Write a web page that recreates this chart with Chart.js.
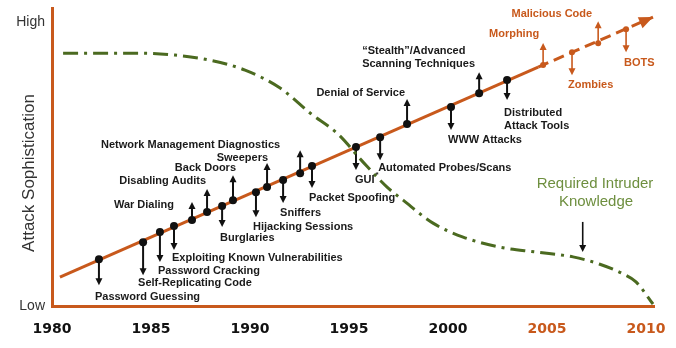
<!DOCTYPE html>
<html>
<head>
<meta charset="utf-8">
<script src="https://cdn.jsdelivr.net/npm/chart.js@4.4.0/dist/chart.umd.min.js"></script>
<style>
  html, body { margin: 0; padding: 0; background: #fff; }
  #wrap { width: 676px; height: 348px; }
</style>
</head>
<body>
<div id="wrap"><canvas id="chart"></canvas></div>
<script>
// x = year, y = attack sophistication, 0 (low) .. 100 (high)
const yearTicks = [1980, 1985, 1990, 1995, 2000, 2005, 2010];
const sophTicks = [0, 100];
const sophTickLabels = ['Low', 'High'];

// trend line: start, end of the solid part, arrow tip
const trendYears = [1980.4, 2004.55, 2010.35];
const trendValues = [10.2, 84.2, 101.8];

// attacks / tools along the trend
const eventNames = [
  'Password Guessing', 'Self-Replicating Code', 'Password Cracking',
  'Exploiting Known Vulnerabilities', 'War Dialing', 'Disabling Audits',
  'Burglaries', 'Back Doors', 'Hijacking Sessions', 'Sweepers', 'Sniffers',
  'Network Management Diagnostics', 'Packet Spoofing', 'GUI',
  'Automated Probes/Scans', 'Denial of Service', 'WWW Attacks',
  '“Stealth”/Advanced|Scanning Techniques', 'Distributed|Attack Tools',
  'Morphing', 'Zombies', 'Malicious Code', 'BOTS'
];
const eventYears = [
  1982.37, 1984.60, 1985.45, 1986.16, 1987.07, 1987.83, 1988.59, 1989.14,
  1990.30, 1990.86, 1991.67, 1992.53, 1993.13, 1995.35, 1996.57, 1997.93,
  2000.15, 2001.57, 2002.98, 2004.80, 2006.26, 2007.58, 2008.99
];
const eventValues = [
  16.5, 22.5, 26.1, 28.2, 30.3, 33.1, 35.2, 37.3, 40.1, 41.9, 44.4, 46.8,
  49.3, 56.0, 59.5, 64.1, 70.1, 75.0, 79.6, 84.9, 89.4, 92.6, 97.5
];
// 1 = arrow up, -1 = arrow down
const eventDirs = [
  -1, -1, -1, -1, 1, 1, -1, 1, -1, 1, -1, 1, -1, -1, -1, 1, -1, 1, -1, 1, -1, 1, -1
];
const futureFrom = 19; // Morphing onwards is the projected part

// required intruder knowledge
const knowYears = [
  1980.56, 1982.42, 1984.44, 1986.21, 1987.98, 1989.75, 1991.52, 1993.03,
  1994.44, 1995.71, 1996.92, 1997.73, 1999.24, 2000.76, 2002.58, 2004.44,
  2006.31, 2007.63, 2008.84, 2009.49, 2010.35
];
const knowValues = [
  89.1, 89.1, 89.1, 88.4, 86.6, 83.1, 76.8, 68.0, 60.6, 50.7, 41.9, 37.3,
  29.2, 24.3, 20.8, 19.0, 17.3, 14.8, 11.3, 8.5, 0.7
];
const knowArrowYear = 2006.8;
const knowArrowValue = 18.7;

// layout of arrows and labels (pixels, relative to the dot)
const arrowLen = [26, 33, 30, 24, 18, 23, 21, 25, 25, 24, 23, 23, 22, 23, 23, 25, 23, 21, 20, 22, 23, 22, 23];
const labelDx = [-4, -5, -2, -2, -18, -1, -2, 3, -3, 1, -3, -20, -3, -1, -2, -2, -3, -117, -3, -4, -4, -6, -2];
const labelDy = [38, 41, 39, 32, -15, -31, 32, -32, 35, -29, 33, -28, 32, 33, 31, -31, 33, -42, 33, -31, 33, -29, 34];
const labelAlign = ['left', 'left', 'left', 'left', 'right', 'right', 'left', 'right', 'left', 'right', 'left', 'right',
  'left', 'left', 'left', 'right', 'left', 'left', 'left', 'right', 'left', 'right', 'left'];

const ORANGE = '#c8591c';
const GREEN = '#4b6a20';
const LABEL_GREEN = '#6e8f3f';

function drawArrow(ctx, x, y0, y1, color, width) {
  const dir = y1 < y0 ? -1 : 1;
  ctx.strokeStyle = color;
  ctx.fillStyle = color;
  ctx.lineWidth = width;
  ctx.beginPath();
  ctx.moveTo(x, y0);
  ctx.lineTo(x, y1 - dir * 5);
  ctx.stroke();
  ctx.beginPath();
  ctx.moveTo(x, y1);
  ctx.lineTo(x - 3.5, y1 - dir * 7);
  ctx.lineTo(x + 3.5, y1 - dir * 7);
  ctx.closePath();
  ctx.fill();
}

const annotations = {
  id: 'annotations',
  beforeDatasetsDraw(chart) {
    const { ctx, scales: { x, y } } = chart;
    ctx.save();
    eventNames.forEach((name, i) => {
      const px = x.getPixelForValue(eventYears[i]);
      const py = y.getPixelForValue(eventValues[i]);
      const future = i >= futureFrom;
      drawArrow(ctx, px, py, py - eventDirs[i] * arrowLen[i], future ? ORANGE : '#111', future ? 1.6 : 2);
    });
    // arrow pointing at the knowledge curve
    const kx = x.getPixelForValue(knowArrowYear);
    const ky = y.getPixelForValue(knowArrowValue);
    drawArrow(ctx, kx, ky - 31, ky - 1, '#111', 1.6);
    ctx.restore();
  },
  afterDatasetsDraw(chart) {
    const { ctx, scales: { x, y } } = chart;
    ctx.save();
    // arrow head of the trend line
    const n = trendYears.length;
    const x1 = x.getPixelForValue(trendYears[n - 2]), y1 = y.getPixelForValue(trendValues[n - 2]);
    const x2 = x.getPixelForValue(trendYears[n - 1]), y2 = y.getPixelForValue(trendValues[n - 1]);
    const ang = Math.atan2(y2 - y1, x2 - x1);
    ctx.fillStyle = ORANGE;
    ctx.translate(x2, y2);
    ctx.rotate(ang);
    ctx.beginPath();
    ctx.moveTo(0, 0);
    ctx.lineTo(-14, -6);
    ctx.lineTo(-14, 6);
    ctx.closePath();
    ctx.fill();
    ctx.setTransform(1, 0, 0, 1, 0, 0);

    // event labels
    ctx.font = 'bold 11px "Liberation Sans", Arial, sans-serif';
    ctx.textBaseline = 'middle';
    eventNames.forEach((name, i) => {
      const px = x.getPixelForValue(eventYears[i]);
      const py = y.getPixelForValue(eventValues[i]);
      ctx.fillStyle = i >= futureFrom ? ORANGE : '#1a1a1a';
      ctx.textAlign = labelAlign[i];
      name.split('|').forEach((line, k) => {
        ctx.fillText(line, px + labelDx[i], py + labelDy[i] + k * 13);
        if (line === 'GUI') {
          const w = ctx.measureText(line).width;
          ctx.save();
          ctx.font = 'bold 8px "Liberation Sans", Arial, sans-serif';
          ctx.textAlign = 'left';
          ctx.fillText('*', px + labelDx[i] + w + 1, py + labelDy[i] - 5);
          ctx.restore();
        }
      });
    });

    // knowledge label
    ctx.font = '15px "Liberation Sans", Arial, sans-serif';
    ctx.fillStyle = LABEL_GREEN;
    ctx.textAlign = 'center';
    ctx.fillText('Required Intruder', 595, 184);
    ctx.fillText('Knowledge', 596, 202);

    // y axis title
    ctx.font = '17px "Liberation Sans", Arial, sans-serif';
    ctx.fillStyle = '#333';
    ctx.translate(29, 173);
    ctx.rotate(-Math.PI / 2);
    ctx.fillText('Attack Sophistication', 0, 0);
    ctx.restore();
  }
};

new Chart(document.getElementById('chart'), {
  type: 'scatter',
  data: {
    datasets: [
      {
        label: 'Attacks',
        data: eventYears.map((yr, i) => ({ x: yr, y: eventValues[i] })),
        pointRadius: eventYears.map((yr, i) => i >= futureFrom ? 3 : 4),
        pointBackgroundColor: eventYears.map((yr, i) => i >= futureFrom ? ORANGE : '#111'),
        pointBorderWidth: 0,
        showLine: false
      },
      {
        label: 'Trend',
        data: trendYears.slice(0, 2).map((yr, i) => ({ x: yr, y: trendValues[i] })),
        showLine: true,
        borderColor: ORANGE,
        borderWidth: 3,
        pointRadius: 0
      },
      {
        label: 'Projected',
        data: trendYears.slice(1).map((yr, i) => ({ x: yr, y: trendValues[i + 1] })),
        showLine: true,
        borderColor: ORANGE,
        borderWidth: 3,
        borderDash: [11, 6],
        pointRadius: 0
      },
      {
        label: 'Required Intruder Knowledge',
        data: knowYears.map((yr, i) => ({ x: yr, y: knowValues[i] })),
        showLine: true,
        borderColor: GREEN,
        borderWidth: 3,
        borderDash: [15, 6, 3, 6],
        tension: 0.4,
        cubicInterpolationMode: 'monotone',
        pointRadius: 0
      }
    ]
  },
  options: {
    responsive: true,
    maintainAspectRatio: false,
    animation: false,
    layout: { padding: { top: 8, right: 22, left: 0, bottom: 0 } },
    plugins: {
      legend: { display: false },
      tooltip: { enabled: false }
    },
    scales: {
      x: {
        type: 'linear',
        min: 1980,
        max: 2010.4,
        afterBuildTicks: (scale) => { scale.ticks = yearTicks.map(v => ({ value: v })); },
        afterFit: (scale) => { scale.height = 42; scale.paddingLeft = 0; scale.paddingRight = 0; },
        grid: { display: false, drawTicks: false },
        border: { color: ORANGE, width: 3 },
        ticks: {
          autoSkip: false,
          maxRotation: 0,
          padding: 15,
          font: { family: '"DejaVu Sans", Verdana, sans-serif', size: 14, weight: 'bold' },
          color: (c) => c.tick && c.tick.value >= 2005 ? ORANGE : '#111',
          callback: (v) => String(v)
        }
      },
      y: {
        min: 0,
        max: 105,
        afterBuildTicks: (scale) => { scale.ticks = sophTicks.map(v => ({ value: v })); },
        afterFit: (scale) => { scale.width = 52; scale.paddingTop = 0; scale.paddingBottom = 0; },
        grid: { display: false, drawTicks: false },
        border: { color: ORANGE, width: 3 },
        ticks: {
          autoSkip: false,
          padding: 7,
          font: { family: '"Liberation Sans", Arial, sans-serif', size: 14 },
          color: '#333',
          callback: (v) => sophTickLabels[sophTicks.indexOf(v)]
        }
      }
    }
  },
  plugins: [annotations]
});
</script>
</body>
</html>
